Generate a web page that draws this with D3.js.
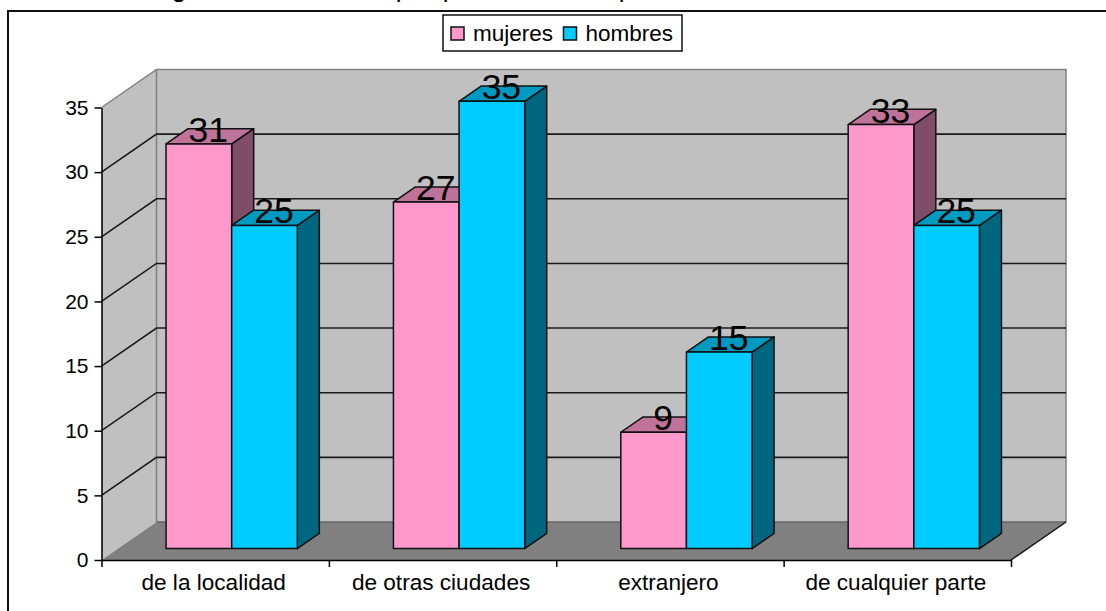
<!DOCTYPE html>
<html>
<head>
<meta charset="utf-8">
<script src="https://cdn.jsdelivr.net/npm/d3@7"></script>
<style>
body { margin: 0; background: #fff; }
text { font-family: "Liberation Sans", Arial, sans-serif; fill: #000; }
</style>
</head>
<body>
<svg></svg>
<script>
// Data
const categories = ["de la localidad", "de otras ciudades", "extranjero", "de cualquier parte"];
const seriesNames = ["mujeres", "hombres"];
const mujeres = [31.3, 26.8, 9, 32.8];
const hombres = [25, 34.6, 15.2, 25];
const yTicks = [0, 5, 10, 15, 20, 25, 30, 35];
// the title is cut off by the top of the picture, only these descenders show
const titleLetters = ["g", "p", "p", "p"];
const titleLetterX = [179, 403, 450, 626];

const colors = {
    mujeres: {front: "#ff99cc", top: "#bf7399", side: "#804d66"},
    hombres: {front: "#00ccff", top: "#0099bf", side: "#006680"}
};

var width = 1106, height = 611;
var svg = d3.select("svg").attr("width", width).attr("height", height);

// Scales
const plotLeft = 101.5, plotRight = 1011, plotBottom = 560, plotTop = 107.5;
const depthX = 55, depthY = -38;
const y = d3.scaleLinear().domain([0, 35]).range([plotBottom, plotTop]);
const x0 = d3.scaleBand().domain(categories).range([plotLeft, plotRight]);
const x1 = d3.scaleBand().domain(seriesNames).range([0, x0.bandwidth()])
    .paddingInner(0).paddingOuter(0.732);
const xEdges = d3.scaleLinear().domain([0, categories.length]).range([plotLeft, plotRight]);
// where the bars sit inside the depth of the floor
const barFront = 0.3, barBack = 0.7;

const pts = a => a.map(p => p.join(",")).join(" ");

// Frame, open on the right and at the bottom
svg.append("path")
    .attr("d", "M8,611V11H1106")
    .attr("fill", "none").attr("stroke", "#111").attr("stroke-width", 2);

// Title descenders
svg.selectAll(".title").data(titleLetters).join("text")
    .attr("class", "title")
    .attr("x", (d, i) => titleLetterX[i])
    .attr("y", -3)
    .attr("text-anchor", "middle")
    .style("font-size", "26px")
    .text(d => d);

// Walls and floor
svg.append("polygon")
    .attr("points", pts([[plotLeft, y(0)], [plotLeft + depthX, y(0) + depthY], [plotLeft + depthX, y(35) + depthY], [plotLeft, y(35)]]))
    .attr("fill", "#c0c0c0");
svg.append("rect")
    .attr("x", plotLeft + depthX).attr("y", y(35) + depthY)
    .attr("width", plotRight - plotLeft).attr("height", y(0) - y(35))
    .attr("fill", "#c0c0c0");
svg.append("path")
    .attr("d", "M" + plotLeft + "," + y(35) + "L" + (plotLeft + depthX) + "," + (y(35) + depthY)
        + "H" + (plotRight + depthX) + "V" + (y(0) + depthY)
        + "M" + (plotLeft + depthX) + "," + (y(35) + depthY) + "V" + (y(0) + depthY))
    .attr("fill", "none").attr("stroke", "#808080").attr("stroke-width", 1.5);
svg.append("polygon")
    .attr("points", pts([[plotLeft, y(0)], [plotRight, y(0)], [plotRight + depthX, y(0) + depthY], [plotLeft + depthX, y(0) + depthY]]))
    .attr("fill", "#808080");
svg.append("line")
    .attr("x1", plotLeft + depthX).attr("x2", plotRight + depthX)
    .attr("y1", y(0) + depthY).attr("y2", y(0) + depthY)
    .attr("stroke", "#666").attr("stroke-width", 1.5);
svg.append("line")
    .attr("x1", plotRight).attr("x2", plotRight + depthX)
    .attr("y1", y(0)).attr("y2", y(0) + depthY)
    .attr("stroke", "#111").attr("stroke-width", 1.5);

// Gridlines, back wall and side wall
var grid = svg.append("g");
grid.selectAll("path").data(yTicks.filter(d => d > 0 && d < 35)).join("path")
    .attr("d", d => "M" + plotLeft + "," + y(d) + "L" + (plotLeft + depthX) + "," + (y(d) + depthY) + "H" + (plotRight + depthX))
    .attr("fill", "none").attr("stroke", "#1a1a1a").attr("stroke-width", 1.6);

// Bars
const bars = [];
categories.forEach(function(c, i) {
    bars.push({cat: c, name: "mujeres", value: mujeres[i]});
    bars.push({cat: c, name: "hombres", value: hombres[i]});
});
const barX = d => x0(d.cat) + x1(d.name) + depthX * barFront;
const barY = v => y(v) + depthY * barFront;
const dx = depthX * (barBack - barFront), dy = depthY * (barBack - barFront);

var barG = svg.append("g").attr("stroke", "#111").attr("stroke-width", 1.5).attr("stroke-linejoin", "round");
bars.forEach(function(d) {
    var l = barX(d), r = l + x1.bandwidth(), t = barY(d.value), b = barY(0);
    barG.append("polygon")
        .attr("points", pts([[r, t], [r + dx, t + dy], [r + dx, b + dy], [r, b]]))
        .attr("fill", colors[d.name].side);
    barG.append("polygon")
        .attr("points", pts([[l, t], [l + dx, t + dy], [r + dx, t + dy], [r, t]]))
        .attr("fill", colors[d.name].top);
    barG.append("rect")
        .attr("x", l).attr("y", t)
        .attr("width", x1.bandwidth()).attr("height", b - t)
        .attr("fill", colors[d.name].front);
});

// Axes
var yAxis = svg.append("g")
    .attr("transform", "translate(" + plotLeft + ",0)")
    .call(d3.axisLeft(y).tickValues(yTicks).tickSize(7).tickPadding(6).tickSizeOuter(0));
yAxis.selectAll("text").style("font-size", "21px");

var xTickAxis = svg.append("g")
    .attr("transform", "translate(0," + plotBottom + ")")
    .call(d3.axisBottom(xEdges).tickValues(d3.range(categories.length + 1)).tickFormat("").tickSize(7).tickSizeOuter(0));

var xAxis = svg.append("g")
    .attr("transform", "translate(-1.5," + plotBottom + ")")
    .call(d3.axisBottom(x0).tickSize(0).tickPadding(14));
xAxis.select(".domain").remove();
xAxis.selectAll("text").style("font-size", "22.6px");

[yAxis, xTickAxis].forEach(function(a) {
    a.selectAll(".domain, line").attr("stroke", "#000").attr("stroke-width", 1.5);
});

// Value labels
svg.selectAll(".value").data(bars).join("text")
    .attr("class", "value")
    .attr("x", d => barX(d) + x1.bandwidth() / 2 + dx / 2 - 1.5)
    .attr("y", d => barY(d.value) - 2)
    .attr("text-anchor", "middle")
    .style("font-size", "35.5px")
    .text(d => d3.format(".0f")(d.value));

// Legend
var legend = svg.append("g");
legend.append("rect")
    .attr("x", 443).attr("y", 15).attr("width", 239).attr("height", 36)
    .attr("fill", "#fff").attr("stroke", "#111").attr("stroke-width", 1.5);
const legendSwatchX = d3.scaleOrdinal().domain(seriesNames).range([451, 563.5]);
legend.selectAll("rect.sw").data(seriesNames).join("rect")
    .attr("class", "sw")
    .attr("x", d => legendSwatchX(d)).attr("y", 27)
    .attr("width", 13).attr("height", 13)
    .attr("fill", d => colors[d].front)
    .attr("stroke", "#111").attr("stroke-width", 1.5);
legend.selectAll("text.lab").data(seriesNames).join("text")
    .attr("class", "lab")
    .attr("x", d => legendSwatchX(d) + 22)
    .attr("y", 41)
    .style("font-size", "22.5px")
    .text(d => d);
</script>
</body>
</html>
